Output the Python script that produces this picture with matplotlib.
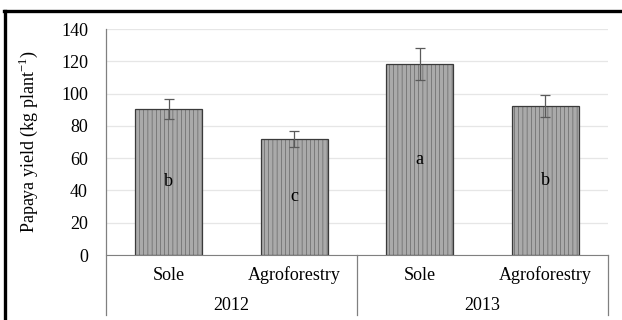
import matplotlib
matplotlib.use("Agg")
import matplotlib.pyplot as plt
from matplotlib.lines import Line2D
import numpy as np

plt.rcParams["font.family"] = ["Liberation Serif", "DejaVu Serif"]
plt.rcParams["mathtext.fontset"] = "custom"
plt.rcParams["mathtext.rm"] = "Liberation Serif"
plt.rcParams["hatch.color"] = "#a0a0a0"
plt.rcParams["hatch.linewidth"] = 0.3

# data
treatments = ["Sole", "Agroforestry", "Sole", "Agroforestry"]
years = ["2012", "2013"]
yield_mean = [90.5, 72.0, 118.2, 92.2]
yield_err = [6.2, 5.0, 10.0, 6.8]
letters = ["b", "c", "a", "b"]

W, H = 622, 320
FS = 13
fig = plt.figure(figsize=(W / 100, H / 100), dpi=100)
ax = fig.add_axes([106 / W, 65 / H, 502 / W, 226 / H])

x = np.arange(len(treatments))
ax.bar(x, yield_mean, width=0.53, color="#aaaaaa", edgecolor="#3a3a3a",
       linewidth=0.9, hatch="||||", zorder=2)
ax.errorbar(x, yield_mean, yerr=yield_err, fmt="none", ecolor="#5a5a5a",
            elinewidth=0.9, capsize=3.5, capthick=0.9, zorder=3)
for xi, v, lab in zip(x, yield_mean, letters):
    ax.text(xi, v / 2, lab, ha="center", va="center", fontsize=FS, zorder=4)

ax.set_xlim(-0.5, 3.5)
ax.set_ylim(0, 140)
ax.set_yticks(range(0, 141, 20))
ax.yaxis.grid(True, color="#e6e6e6", linewidth=0.9, zorder=0)
ax.set_axisbelow(True)
ax.tick_params(axis="y", length=0, pad=13, labelsize=FS)
ax.set_xticks([])
for s in ["top", "right"]:
    ax.spines[s].set_visible(False)
ax.spines["bottom"].set_color("#808080")
ax.spines["left"].set_visible(False)
ax.set_ylabel("Papaya yield (kg plant$^{\\mathregular{-1}}$)", fontsize=FS)
ax.yaxis.set_label_coords(-0.131, 0.5)

# multi-level category axis
tr = ax.get_xaxis_transform()
low = -60 / 226
ax.plot([-0.5, -0.5], [low, 1.0], transform=tr, color="#808080", lw=0.9, clip_on=False)
for xs in [1.5, 3.5]:
    ax.plot([xs, xs], [low, 0], transform=tr, color="#808080", lw=0.9, clip_on=False)
for xi, t in zip(x, treatments):
    ax.text(xi, -20 / 226, t, transform=tr, ha="center", va="center", fontsize=FS)
for gi, yr in enumerate(years):
    ax.text(0.5 + 2 * gi, -50 / 226, yr, transform=tr, ha="center", va="center", fontsize=FS)

# outer frame
fig.add_artist(Line2D([4 / W, 1.0], [1 - 11 / H, 1 - 11 / H], color="black", lw=2.4))
fig.add_artist(Line2D([5 / W, 5 / W], [0, 1 - 11 / H], color="black", lw=2.4))

fig.savefig("out.png", dpi=100)
